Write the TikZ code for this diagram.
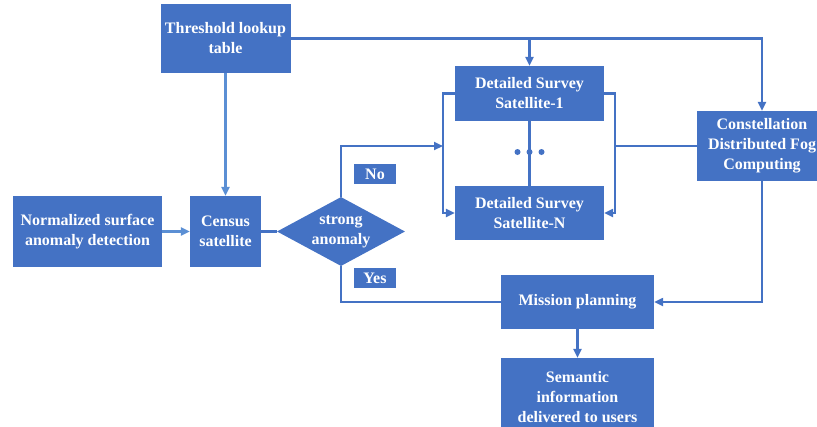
\documentclass[tikz,border=0pt]{standalone}
\usepackage{fontspec}
\setmainfont{Liberation Serif}
\usetikzlibrary{arrows.meta,shapes.geometric}
\definecolor{boxblue}{HTML}{4472C4}
\definecolor{lineblue}{HTML}{5B8FD4}

\begin{document}
\begin{tikzpicture}[x=1pt,y=-1pt,
  font=\fontsize{16}{20}\selectfont\bfseries,
  blk/.style={fill=boxblue,text=white,align=center,inner sep=0pt},
  flow/.style={draw=boxblue,line width=2.2pt},
  arr/.style={flow,-{Triangle[length=9pt,width=8pt]}}]
\clip (0,0) rectangle (817,426);

\node[blk,minimum width=130pt,minimum height=69pt] (thresh) at (225.5,38.5) {Threshold lookup\\table};
\node[blk,minimum width=149pt,minimum height=71pt] (normal) at (87.5,231.5) {Normalized surface\\anomaly detection};
\node[blk,minimum width=71pt,minimum height=71pt] (census) at (225.5,231.5) {Census\\satellite};
\node[blk,diamond,aspect=1.85,minimum width=128pt,minimum height=69pt] (strong) at (341,231.5) {strong\\anomaly};
\node[blk,minimum width=149pt,minimum height=55pt] (ds1) at (529.5,93.5) {Detailed Survey\\Satellite-1};
\node[blk,minimum width=149pt,minimum height=54pt] (dsN) at (529.5,213) {Detailed Survey\\Satellite-N};
\node[blk,minimum width=130pt,minimum height=70pt] (const) at (762,146) {Constellation\\Distributed Fog\\Computing};
\node[blk,minimum width=153pt,minimum height=54pt] (mission) at (577.5,302) {Mission planning};
\node[blk,minimum width=153pt,minimum height=78pt] (semantic) at (577.5,397) {Semantic\\information\\delivered to users};
\node[blk,minimum width=42pt,minimum height=20pt] (no) at (375,174) {No};
\node[blk,minimum width=42pt,minimum height=20pt] (yes) at (375,278) {Yes};

\path
  (443,146) coordinate(lbr)
  (615,146) coordinate(rbr);

\draw[flow] (ds1.south) -- (dsN.north);
\foreach \dx in {-12,0,12}
  \fill[boxblue] (529.5+\dx,152) circle (3pt);

\draw[arr,draw=lineblue] (normal) -- (census);
\draw[arr,draw=lineblue] (thresh) -- (census);
\draw[flow] (census) -- (strong);
\draw[arr] (thresh.east) -| (const.north);
\draw[arr] (thresh.east -| ds1.north) -- (ds1.north);
\draw[arr] (strong.north) |- (lbr);
\draw[arr] (ds1.west) -- (ds1.west -| lbr) -- (dsN.west -| lbr) -- (dsN.west);
\draw[arr] (ds1.east) -- (ds1.east -| rbr) -- (dsN.east -| rbr) -- (dsN.east);
\draw[flow] (const.west) -- (rbr);
\draw[arr] (const.south) |- (mission.east);
\draw[flow] (strong.south) |- (mission.west);
\draw[arr] (mission) -- (semantic);
\end{tikzpicture}
\end{document}
